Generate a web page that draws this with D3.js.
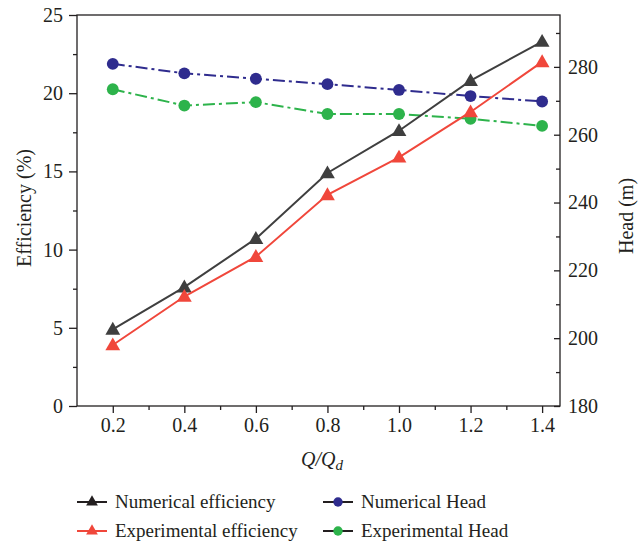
<!DOCTYPE html>
<html><head><meta charset="utf-8">
<script src="https://cdn.jsdelivr.net/npm/d3@7"></script>
<style>body{margin:0;background:#fff}svg{display:block}text{font-family:"Liberation Serif","DejaVu Serif",serif;fill:#231f20}</style>
</head><body><svg id="c" width="641" height="546"></svg>
<script>
const flowRatio = [0.2, 0.4, 0.6, 0.8, 1.0, 1.2, 1.4];
const numEff = [4.9, 7.6, 10.7, 14.9, 17.6, 20.8, 23.3];
const expEff = [3.9, 7.0, 9.55, 13.5, 15.9, 18.8, 22.0];
const numHead = [280.9, 278.1, 276.5, 274.9, 273.2, 271.4, 269.8];
const expHead = [273.4, 268.6, 269.6, 266.1, 266.1, 264.7, 262.6];
const xTicks = [0.2, 0.4, 0.6, 0.8, 1.0, 1.2, 1.4];
const effTicks = [0, 5, 10, 15, 20, 25];
const headTicks = [180, 200, 220, 240, 260, 280];

const svg = d3.select("#c");
const L = 77, R = 560, T = 15, B = 406;
const x = d3.scaleLinear().domain([0.1, 1.45]).range([L, R]);
const yE = d3.scaleLinear().domain([0, 25]).range([B, T]);
const yH = d3.scaleLinear().domain([180, 295.3]).range([B, T]);

const cNE = "#3f3f3f", cEE = "#f0473b", cNH = "#2f2c8e", cEH = "#2db34b";

// frame
svg.append("rect").attr("x", L).attr("y", T).attr("width", R - L).attr("height", B - T)
  .attr("fill", "none").attr("stroke", "#231f20").attr("stroke-width", 1.3);

// axes
const fmt1 = d3.format(".1f");
const gx = svg.append("g").attr("transform", `translate(0,${B})`)
  .call(d3.axisBottom(x).tickValues(xTicks).tickFormat(fmt1).tickSizeOuter(0).tickSize(7).tickPadding(5));
const gxm = svg.append("g").attr("transform", `translate(0,${B})`)
  .call(d3.axisBottom(x).tickValues([0.3,0.5,0.7,0.9,1.1,1.3]).tickFormat("").tickSizeOuter(0).tickSize(4));
const gy = svg.append("g").attr("transform", `translate(${L},0)`)
  .call(d3.axisLeft(yE).tickValues(effTicks).tickSizeOuter(0).tickSize(8).tickPadding(6));
const gym = svg.append("g").attr("transform", `translate(${L},0)`)
  .call(d3.axisLeft(yE).tickValues([2.5,7.5,12.5,17.5,22.5]).tickFormat("").tickSizeOuter(0).tickSize(4));
const gr = svg.append("g").attr("transform", `translate(${R},0)`)
  .call(d3.axisRight(yH).tickValues(headTicks).tickSizeOuter(0).tickSize(-6).tickPadding(9));
const grm = svg.append("g").attr("transform", `translate(${R},0)`)
  .call(d3.axisRight(yH).tickValues([190,210,230,250,270,290]).tickFormat("").tickSizeOuter(0).tickSize(-4));
[gx, gxm, gy, gym, gr, grm].forEach(g => {
  g.select(".domain").remove();
  g.selectAll("line").attr("stroke", "#231f20").attr("stroke-width", 1.3);
  g.selectAll("text").style("font-family", '"Liberation Serif",serif').style("font-size", "20px").attr("fill", "#231f20");
});
gr.selectAll("text").attr("x", 8);

// axis titles
svg.append("text").attr("transform", "translate(31,208) rotate(-90)").attr("text-anchor", "middle")
  .style("font-size", "20px").text("Efficiency (%)");
svg.append("text").attr("transform", "translate(633,216) rotate(-90)").attr("text-anchor", "middle")
  .style("font-size", "20px").text("Head (m)");
const xl = svg.append("text").attr("x", 322).attr("y", 466).attr("text-anchor", "middle")
  .style("font-size", "20px").style("font-style", "italic");
xl.append("tspan").text("Q/Q");
xl.append("tspan").attr("dy", 4).style("font-size", "15px").text("d");

// lines
const tri = d3.symbol().type(d3.symbolTriangle).size(95);
const circ = d3.symbol().type(d3.symbolCircle).size(110);
function series(vals, y, color, dash, sym) {
  const pts = flowRatio.map((f, i) => [x(f), y(vals[i])]);
  svg.append("path").attr("d", d3.line()(pts)).attr("fill", "none").attr("stroke", color)
    .attr("stroke-width", 2).attr("stroke-dasharray", dash);
  svg.append("g").selectAll("path").data(pts).join("path")
    .attr("transform", d => `translate(${d[0]},${d[1] + (sym === tri ? 1 : 0)})`)
    .attr("d", sym).attr("fill", color);
}
series(numHead, yH, cNH, "12,4,3,4", circ);
series(expHead, yH, cEH, "12,4,3,4", circ);
series(numEff, yE, cNE, null, tri);
series(expEff, yE, cEE, null, tri);

// legend
const legend = [
  {label: "Numerical efficiency", line: "#231f20", mark: "#231f20", sym: "tri", lx: 77, ly: 502},
  {label: "Experimental efficiency", line: cEE, mark: cEE, sym: "tri", lx: 77, ly: 531},
  {label: "Numerical Head", line: "#231f20", mark: cNH, sym: "circ", lx: 323, ly: 502},
  {label: "Experimental Head", line: "#231f20", mark: cEH, sym: "circ", lx: 323, ly: 531}
];
const lg = svg.append("g").selectAll("g").data(legend).join("g");
lg.append("line").attr("x1", d => d.lx).attr("x2", d => d.lx + 30).attr("y1", d => d.ly).attr("y2", d => d.ly)
  .attr("stroke", d => d.line).attr("stroke-width", 2);
lg.append("path").attr("transform", d => `translate(${d.lx + 15},${d.ly})`)
  .attr("d", d => d.sym === "tri" ? d3.symbol().type(d3.symbolTriangle).size(60)() : d3.symbol().type(d3.symbolCircle).size(70)())
  .attr("fill", d => d.mark);
lg.append("text").attr("x", d => d.lx + 38).attr("y", d => d.ly + 6).style("font-size", "19px").text(d => d.label);
</script></body></html>
